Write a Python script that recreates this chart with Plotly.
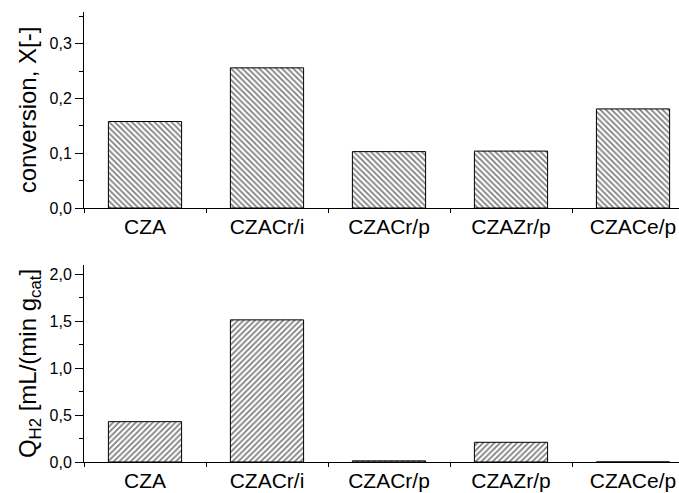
import plotly.graph_objects as go
from plotly.subplots import make_subplots

categories = ["CZA", "CZACr/i", "CZACr/p", "CZAZr/p", "CZACe/p"]
conversion = [0.158, 0.256, 0.103, 0.104, 0.181]
q_h2 = [0.43, 1.515, 0.012, 0.21, 0.0]

top_ticks = [0.0, 0.1, 0.2, 0.3]
top_ticktext = ["0,0", "0,1", "0,2", "0,3"]
bot_ticks = [0.0, 0.5, 1.0, 1.5, 2.0]
bot_ticktext = ["0,0", "0,5", "1,0", "1,5", "2,0"]

FONT = "Liberation Sans, Arial, sans-serif"

fig = make_subplots(rows=2, cols=1, vertical_spacing=0.0)

fig.add_trace(go.Bar(
    x=categories, y=conversion, width=0.6,
    marker=dict(color="white", line=dict(color="black", width=1),
                pattern=dict(shape="\\", fgcolor="black", bgcolor="white", size=4, solidity=0.45)),
    showlegend=False), row=1, col=1)

fig.add_trace(go.Bar(
    x=categories, y=q_h2, width=0.6,
    marker=dict(color="white", line=dict(color="black", width=1),
                pattern=dict(shape="/", fgcolor="black", bgcolor="white", size=4, solidity=0.45)),
    showlegend=False), row=2, col=1)

xcommon = dict(
    type="category", range=[-0.5, 4.377], showline=True, linecolor="black", linewidth=1,
    ticks="outside", tickson="boundaries", ticklen=4, tickcolor="black",
    tickfont=dict(family=FONT, size=21, color="black"), showgrid=False, zeroline=False,
    automargin=False,
)
fig.update_xaxes(**xcommon)

ycommon = dict(
    showline=True, linecolor="black", linewidth=1, ticks="outside", ticklen=8,
    tickcolor="black", tickfont=dict(family=FONT, size=16, color="black"),
    showgrid=False, zeroline=False, automargin=False,
)
fig.update_yaxes(**ycommon)

fig.update_yaxes(row=1, col=1, range=[0, 0.358], domain=[0.5644, 1.0],
                 tickvals=top_ticks, ticktext=top_ticktext,
                 minor=dict(dtick=0.05, ticks="outside", ticklen=4, tickcolor="black", showgrid=False),
                 title=dict(text="conversion, X[-]", font=dict(family=FONT, size=24, color="black"), standoff=6))
fig.update_yaxes(row=2, col=1, range=[0, 2.1], domain=[0.0, 0.4378],
                 tickvals=bot_ticks, ticktext=bot_ticktext,
                 minor=dict(dtick=0.25, ticks="outside", ticklen=4, tickcolor="black", showgrid=False),
                 title=dict(text="Q<sub>H2</sub> [mL/(min g<sub>cat</sub>]", font=dict(family=FONT, size=24, color="black"), standoff=6))

fig.update_layout(
    width=679, height=493,
    margin=dict(l=84, r=0, t=12, b=31),
    plot_bgcolor="white", paper_bgcolor="white",
    bargap=0.4,
)

fig.write_html("out.html")
